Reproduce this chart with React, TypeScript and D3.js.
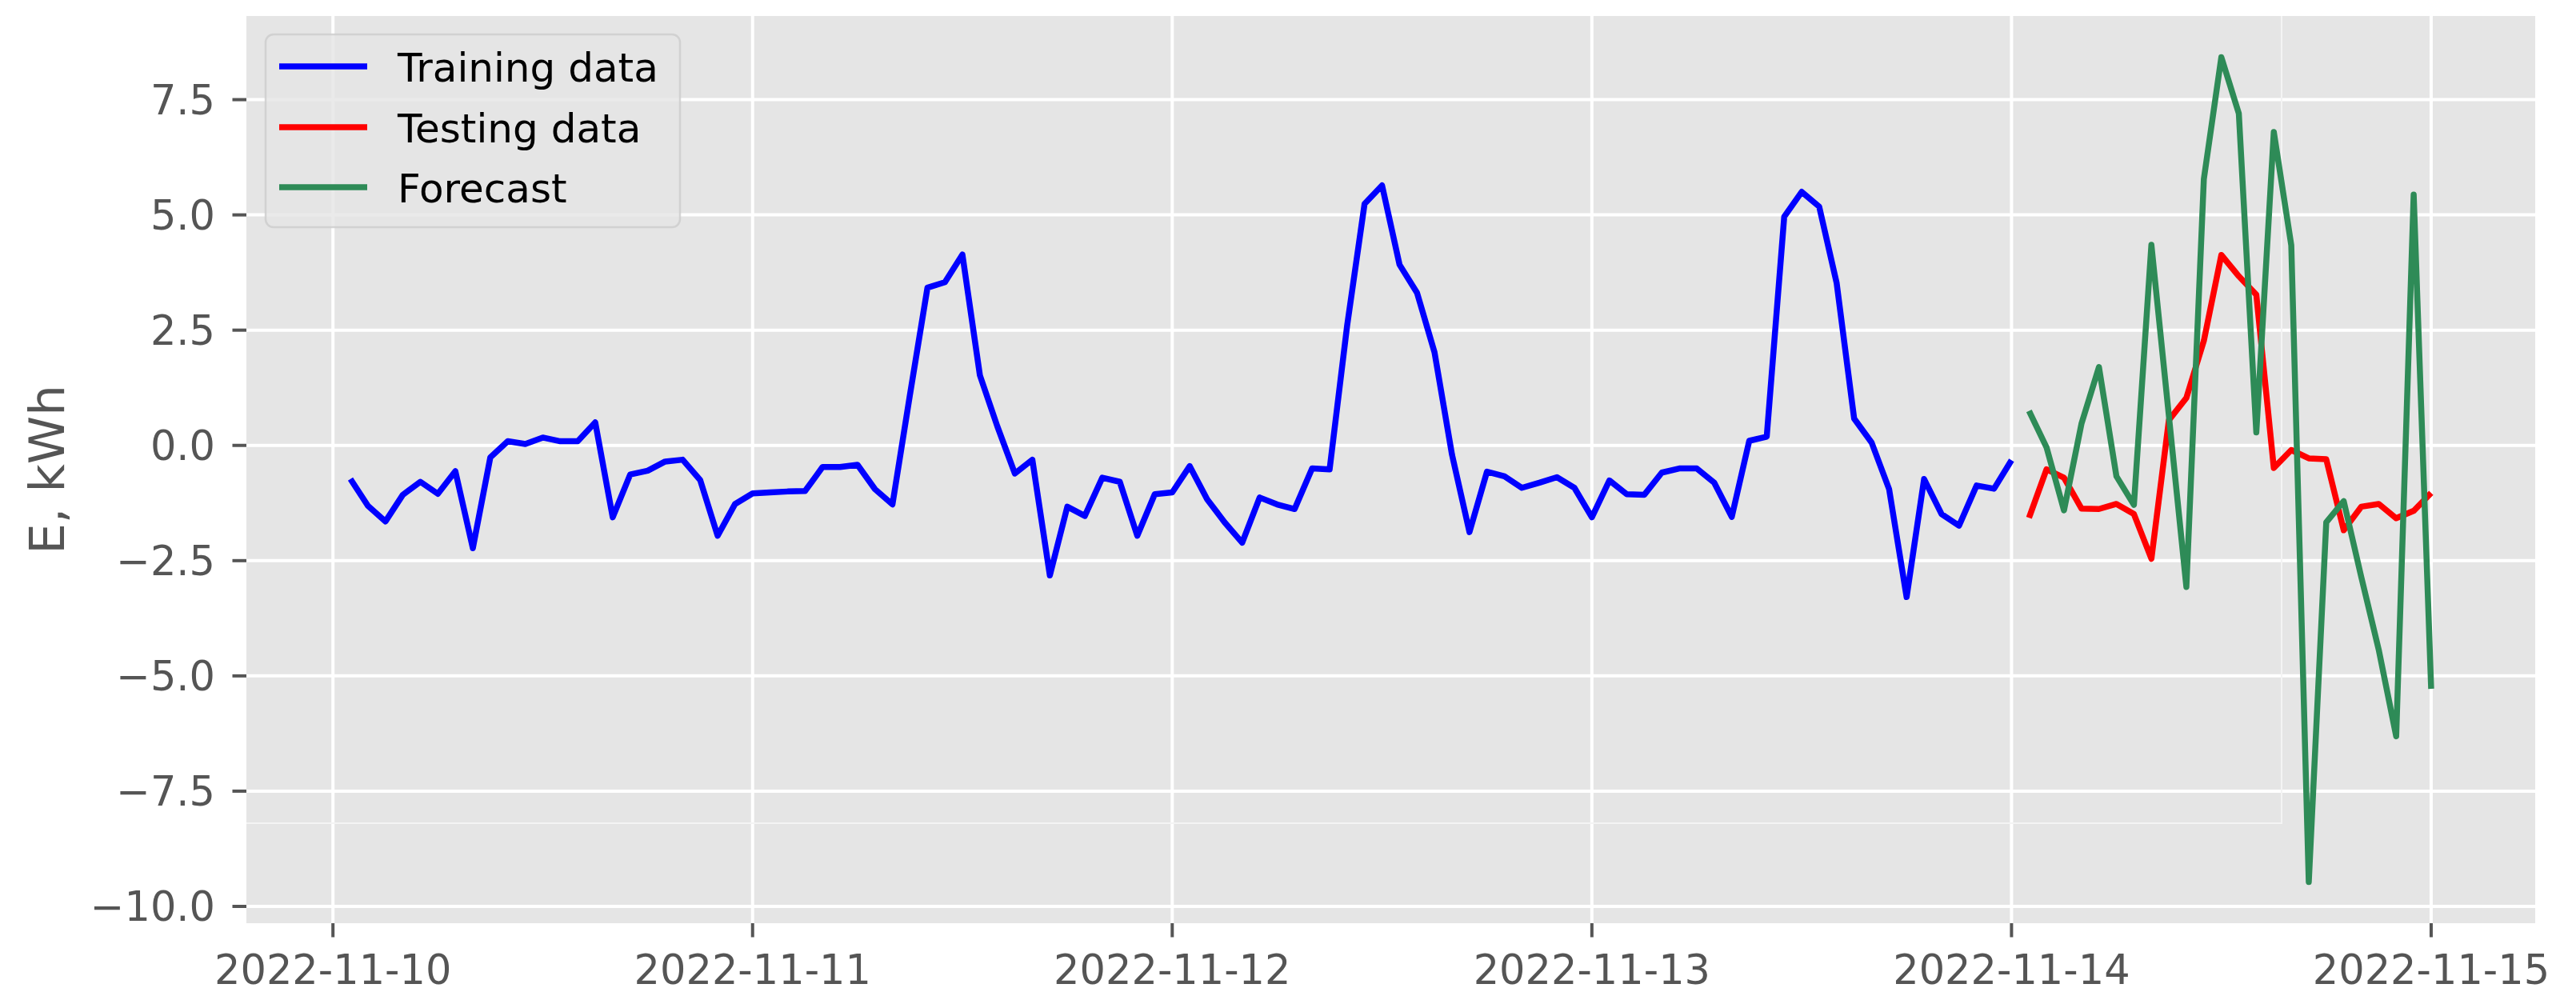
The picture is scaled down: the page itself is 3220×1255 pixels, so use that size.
import React from "react";
import * as d3 from "d3";

// ---- data (hourly, E in kWh) ----
const trainStart = "2022-11-10T01:00:00Z"; // first training hour
const testStart = "2022-11-14T01:00:00Z"; // first testing / forecast hour

const trainingValues = [
  -0.73, -1.31, -1.65, -1.07, -0.79, -1.05, -0.56, -2.23, -0.26, 0.09, 0.03, 0.17,
  0.09, 0.09, 0.5, -1.56, -0.63, -0.55, -0.35, -0.31, -0.75, -1.96, -1.27, -1.04,
  -1.02, -1.0, -0.99, -0.47, -0.47, -0.42, -0.95, -1.28, 1.1, 3.42, 3.54, 4.14,
  1.52, 0.41, -0.61, -0.31, -2.82, -1.33, -1.53, -0.7, -0.79, -1.96, -1.06, -1.02,
  -0.45, -1.17, -1.67, -2.11, -1.13, -1.28, -1.38, -0.5, -0.52, 2.59, 5.24, 5.64,
  3.92, 3.31, 2.02, -0.2, -1.88, -0.57, -0.67, -0.92, -0.81, -0.69, -0.92, -1.56,
  -0.76, -1.06, -1.07, -0.59, -0.5, -0.5, -0.81, -1.55, 0.1, 0.19, 4.96, 5.5,
  5.18, 3.52, 0.58, 0.06, -0.95, -3.29, -0.73, -1.49, -1.74, -0.87, -0.94, -0.32,
];

const testingValues = [
  -1.57, -0.52, -0.7, -1.37, -1.38, -1.27, -1.49, -2.46, 0.55, 1.03, 2.27, 4.13,
  3.67, 3.27, -0.49, -0.1, -0.28, -0.3, -1.84, -1.33, -1.27, -1.58, -1.42, -1.03,
];

const forecastValues = [
  0.75, -0.04, -1.41, 0.47, 1.7, -0.67, -1.29, 4.35, 0.64, -3.07, 5.78, 8.42,
  7.2, 0.28, 6.8, 4.34, -9.47, -1.67, -1.21, -2.85, -4.43, -6.31, 5.44, -5.28,
];

const xTickDates = ["2022-11-10", "2022-11-11", "2022-11-12", "2022-11-13", "2022-11-14", "2022-11-15"];
const yTickValues = [-10, -7.5, -5, -2.5, 0, 2.5, 5, 7.5];

const seriesNames = ["Training data", "Testing data", "Forecast"];
const seriesColors = ["#0000ff", "#ff0000", "#2e8b57"];

type Pt = { t: Date; v: number };
const toPoints = (start: string, vals: number[]): Pt[] =>
  vals.map((v, i) => ({ t: d3.utcHour.offset(new Date(start), i), v }));

export default function App() {
  const W = 3220;
  const H = 1255;
  const left = 308;
  const right = 3169;
  const top = 20;
  const bottom = 1154;

  const training = toPoints(trainStart, trainingValues);
  const testing = toPoints(testStart, testingValues);
  const forecast = toPoints(testStart, forecastValues);
  const series = [training, testing, forecast];
  const all = series.flat();

  const [t0, t1] = d3.extent(all, (d) => d.t) as [Date, Date];
  const tm = (t1.getTime() - t0.getTime()) * 0.05;
  const x = d3
    .scaleUtc()
    .domain([new Date(t0.getTime() - tm), new Date(t1.getTime() + tm)])
    .range([left, right]);

  const [v0, v1] = d3.extent(all, (d) => d.v) as [number, number];
  const vm = (v1 - v0) * 0.05;
  const y = d3.scaleLinear().domain([v0 - vm, v1 + vm]).range([bottom, top]);

  const line = d3
    .line<Pt>()
    .x((d) => x(d.t))
    .y((d) => y(d.v));

  const font = "'DejaVu Sans', 'Liberation Sans', sans-serif";
  const tickColor = "#555555";
  const xTicks = xTickDates.map((s) => new Date(s + "T00:00:00Z"));
  const fmtY = (v: number) => d3.format(".1f")(v).replace("-", "\u2212");

  // ghost frame (faint lighter rectangle in the reference)
  const ghostX = 2852;
  const ghostY = 1029;

  const legendX = 332;
  const legendY = 43;
  const legendW = 518;
  const legendH = 241;
  const rowY = [83, 159, 234];

  return (
    <svg
      width={W}
      height={H}
      style={{ position: "absolute", left: 0, top: 0, background: "#ffffff" }}
      fontFamily={font}
    >
      <rect x={0} y={0} width={W} height={H} fill="#ffffff" />
      <rect x={left} y={top} width={right - left} height={bottom - top} fill="#e5e5e5" />

      {/* grid */}
      {yTickValues.map((v) => (
        <line key={"gy" + v} x1={left} x2={right} y1={y(v)} y2={y(v)} stroke="#ffffff" strokeWidth={4} />
      ))}
      {xTicks.map((t, i) => (
        <line key={"gx" + i} x1={x(t)} x2={x(t)} y1={top} y2={bottom} stroke="#ffffff" strokeWidth={4} />
      ))}

      {/* faint frame */}
      <polyline
        points={`${ghostX},${top} ${ghostX},${ghostY} ${left},${ghostY}`}
        fill="none"
        stroke="#f4f4f4"
        strokeWidth={2}
      />

      {/* series */}
      {series.map((s, i) => (
        <path
          key={"s" + i}
          d={line(s) || ""}
          fill="none"
          stroke={seriesColors[i]}
          strokeWidth={7.5}
          strokeLinejoin="round"
          strokeLinecap="butt"
        />
      ))}

      {/* y axis */}
      {yTickValues.map((v) => (
        <g key={"ty" + v}>
          <line x1={left - 17.5} x2={left} y1={y(v)} y2={y(v)} stroke={tickColor} strokeWidth={4} />
          <text x={269} y={y(v) + 18.5} textAnchor="end" fontSize={51} fill={tickColor}>
            {fmtY(v)}
          </text>
        </g>
      ))}

      {/* x axis */}
      {xTicks.map((t, i) => (
        <g key={"tx" + i}>
          <line x1={x(t)} x2={x(t)} y1={bottom} y2={bottom + 17.5} stroke={tickColor} strokeWidth={4} />
          <text x={x(t)} y={1230} textAnchor="middle" fontSize={51} fill={tickColor}>
            {d3.utcFormat("%Y-%m-%d")(t)}
          </text>
        </g>
      ))}

      {/* y label */}
      <text
        transform={`translate(80, ${(top + bottom) / 2}) rotate(-90)`}
        textAnchor="middle"
        fontSize={61}
        fill={tickColor}
      >
        E, kWh
      </text>

      {/* legend */}
      <rect
        x={legendX}
        y={legendY}
        width={legendW}
        height={legendH}
        rx={10}
        ry={10}
        fill="#e5e5e5"
        fillOpacity={0.8}
        stroke="#cccccc"
        strokeOpacity={0.8}
        strokeWidth={2.5}
      />
      {seriesNames.map((name, i) => (
        <g key={"lg" + i}>
          <line x1={349} x2={459} y1={rowY[i]} y2={rowY[i]} stroke={seriesColors[i]} strokeWidth={7.5} />
          <text x={497} y={rowY[i] + 18.5} fontSize={50} fill="#000000">
            {name}
          </text>
        </g>
      ))}
    </svg>
  );
}
